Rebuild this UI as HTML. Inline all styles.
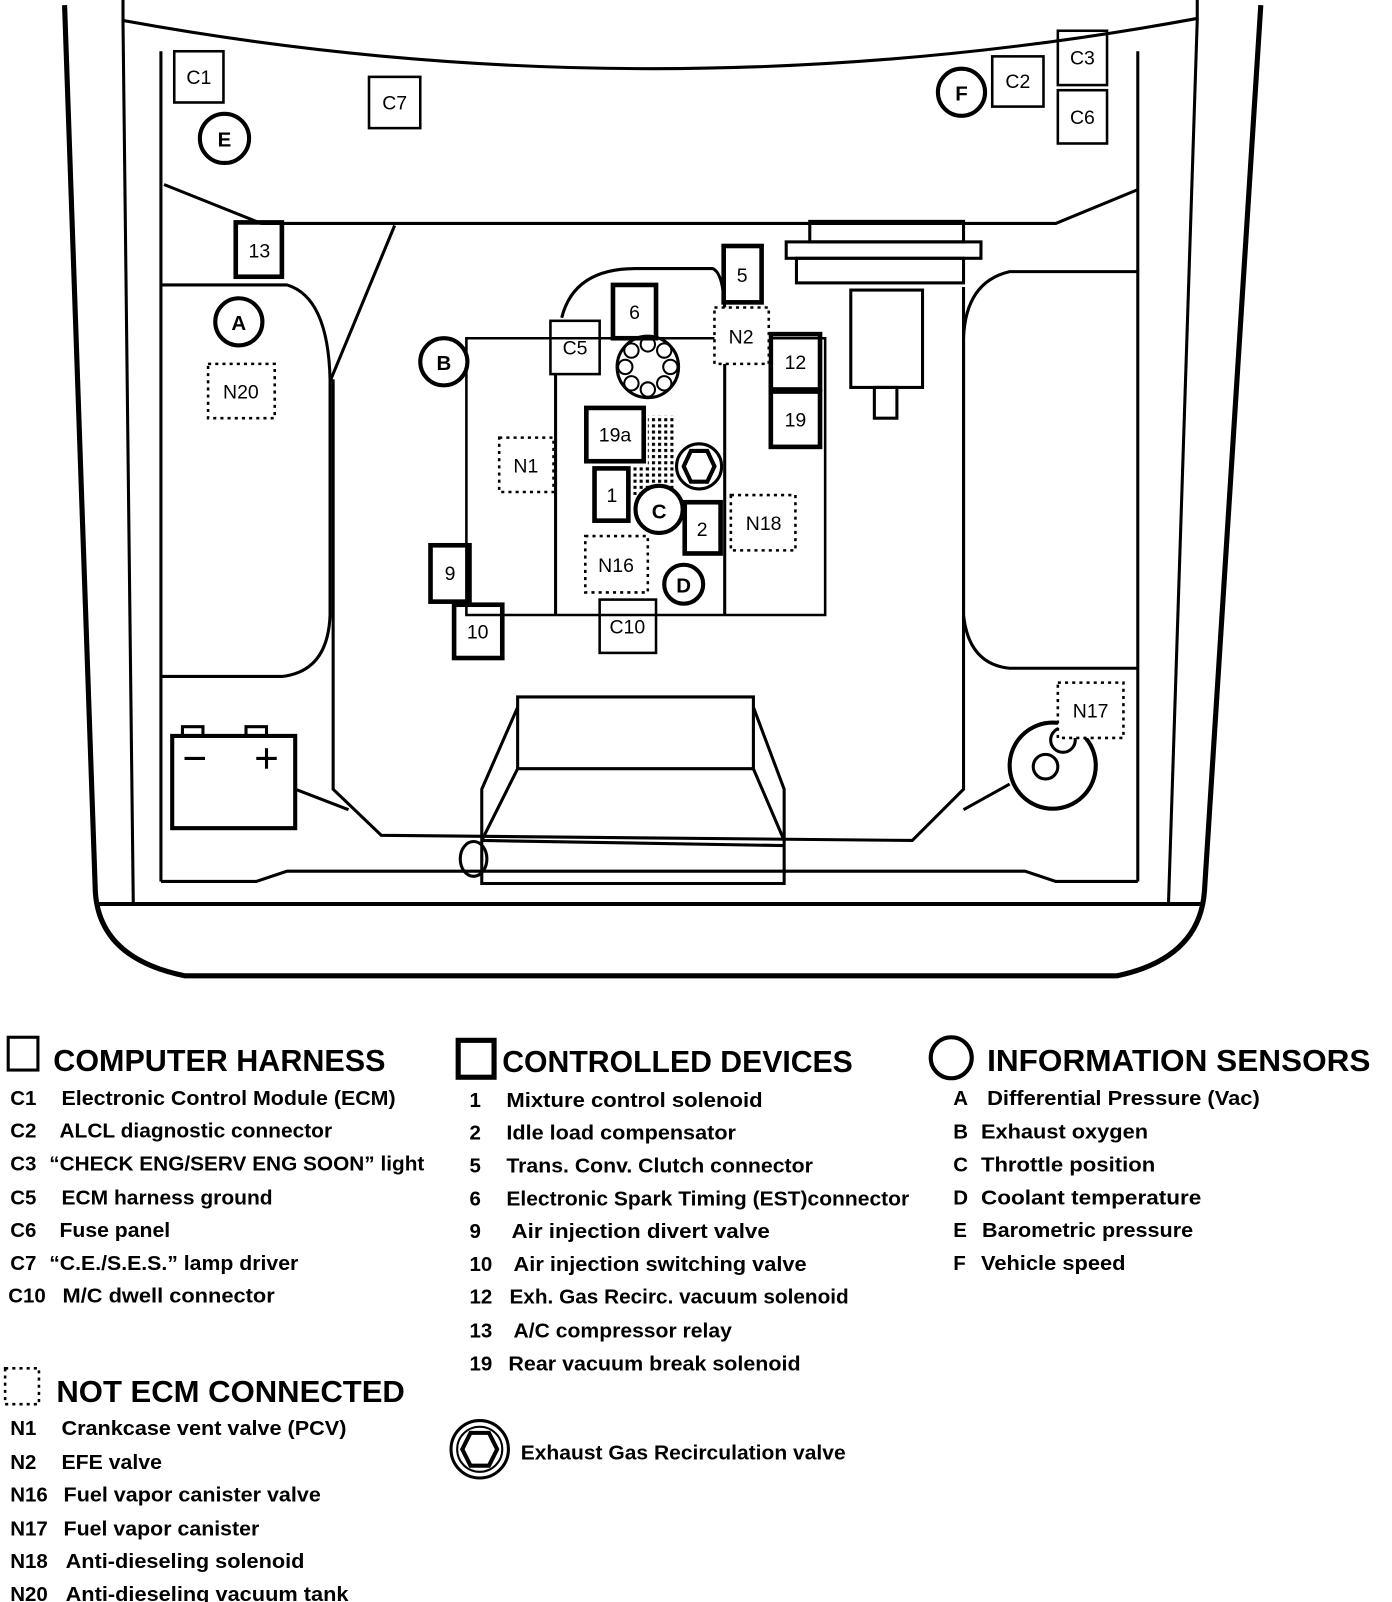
<!DOCTYPE html>
<html><head><meta charset="utf-8"><style>
html,body{margin:0;padding:0;background:#fff}
svg{display:block}
text{font-family:"Liberation Sans",sans-serif;fill:#000}
.b{font-weight:bold;font-size:20px}
.h{font-weight:bold;font-size:30px}
.l{font-size:19px}
</style></head><body>
<svg width="1392" height="1602" viewBox="0 0 1358 1563" preserveAspectRatio="none" xmlns="http://www.w3.org/2000/svg">
<defs><pattern id="dots" width="6" height="6" patternUnits="userSpaceOnUse"><rect x="0" y="0" width="3" height="3" fill="#000"/></pattern></defs>
<g fill="none" stroke="#000" stroke-width="3">
<path d="M63,5 L93,870 Q97,935 180,952 L1090,952 Q1170,935 1175,870 L1230,5" stroke-width="5"/>
<line x1="93" y1="882" x2="1175" y2="882" stroke-width="4"/>
<path d="M120,0 L120,22 L130,880"/>
<path d="M1168,0 L1168,20 L1140,880"/>
<path d="M120,20 Q640,115 1168,18"/>
<line x1="157" y1="50" x2="157" y2="860"/>
<line x1="1110" y1="50" x2="1110" y2="860"/>
<path d="M157,860 L250,860 L280,850 L1000,850 L1030,860 L1110,860"/>
<path d="M160,180 L255,218 L1030,218 L1110,185"/>
<path d="M157,278 L280,278 Q320,290 322,370 L322,600 Q320,655 275,660 L157,660"/>
<path d="M385,220 L322,372"/>
<path d="M325,370 L325,770 L372,815 L890,820 L940,770 L940,280"/>
<path d="M1110,265 L985,265 Q942,275 940,330 L940,600 Q945,648 985,652 L1110,652"/>
<rect x="168" y="718" width="120" height="90" stroke-width="4"/>
<rect x="178" y="709" width="20" height="9"/><rect x="240" y="709" width="20" height="9"/>
<line x1="180" y1="740" x2="200" y2="740"/><line x1="250" y1="740" x2="270" y2="740"/><line x1="260" y1="730" x2="260" y2="750"/>
<line x1="288" y1="770" x2="340" y2="790"/>
<path d="M505,680 L735,680 L735,750 L505,750 Z"/>
<path d="M505,690 L470,770 L470,862 L765,862 L765,770 L735,690"/>
<path d="M505,750 L470,820 M735,750 L765,820 M470,820 L765,825"/>
<ellipse cx="462" cy="838" rx="13" ry="17"/>
<circle cx="1027" cy="747" r="42" stroke-width="4"/>
<circle cx="1020" cy="748" r="12"/><circle cx="1037" cy="722" r="12"/>
<line x1="985" y1="765" x2="940" y2="790"/>
<path d="M455,330 L805,330 L805,600 L455,600 Z" stroke-width="2.5"/>
<line x1="542" y1="365" x2="542" y2="600"/>
<line x1="707" y1="355" x2="707" y2="600"/>
<path d="M548,310 Q560,262 620,262 L695,262 Q705,265 707,300"/>
<circle cx="632" cy="358" r="30"/>
<g stroke-width="2"><circle cx="632" cy="336" r="7"/><circle cx="648" cy="342" r="7"/><circle cx="654" cy="358" r="7"/><circle cx="648" cy="374" r="7"/><circle cx="632" cy="380" r="7"/><circle cx="616" cy="374" r="7"/><circle cx="610" cy="358" r="7"/><circle cx="616" cy="342" r="7"/></g>
<rect x="632" y="405" width="28" height="75" fill="url(#dots)" stroke="none"/>
<rect x="615" y="455" width="20" height="28" fill="url(#dots)" stroke="none"/>
<circle cx="682" cy="455" r="22"/>
<polygon points="674,440 690,440 697,455 690,470 674,470 667,455" stroke-width="4"/>
<rect x="767" y="236" width="190" height="16"/>
<rect x="777" y="252" width="163" height="24"/>
<rect x="790" y="216" width="150" height="20"/>
<rect x="830" y="283" width="70" height="95"/>
<rect x="853" y="378" width="22" height="30"/>
<g stroke-width="2.5">
<rect x="170" y="50" width="48" height="50"/><rect x="360" y="75" width="50" height="50"/>
<rect x="968" y="55" width="50" height="49"/><rect x="1032" y="30" width="48" height="53"/>
<rect x="1032" y="88" width="48" height="52"/><rect x="537" y="313" width="48" height="52"/>
<rect x="585" y="585" width="55" height="52"/>
</g>
<g stroke-width="4.5">
<rect x="230" y="217" width="45" height="53"/><rect x="598" y="278" width="42" height="52"/>
<rect x="706" y="240" width="37" height="55"/><rect x="752" y="326" width="48" height="54"/>
<rect x="752" y="382" width="48" height="54"/><rect x="572" y="398" width="56" height="52"/>
<rect x="580" y="457" width="33" height="51"/><rect x="668" y="490" width="35" height="50"/>
<rect x="420" y="532" width="38" height="55"/><rect x="443" y="590" width="47" height="52"/>
</g>
<g stroke-width="4" fill="#fff">
<circle cx="219" cy="135" r="24"/><circle cx="938" cy="90" r="23"/><circle cx="233" cy="314" r="23"/>
<circle cx="433" cy="353" r="23"/><circle cx="643" cy="497" r="23"/><circle cx="667" cy="570" r="19"/>
</g>
<g stroke-width="2.5" stroke-dasharray="3,4" fill="#fff">
<rect x="203" y="355" width="65" height="53"/><rect x="487" y="427" width="53" height="53"/>
<rect x="697" y="300" width="53" height="55"/><rect x="713" y="483" width="63" height="54"/>
<rect x="571" y="523" width="61" height="55"/><rect x="1032" y="666" width="64" height="54"/>
</g>
<rect x="8" y="1012" width="29" height="32" stroke-width="3"/>
<rect x="447" y="1015" width="35" height="36" stroke-width="5"/>
<circle cx="928" cy="1032" r="20" stroke-width="4"/>
<rect x="5" y="1335" width="33" height="35" stroke-width="2.5" stroke-dasharray="3,4"/>
<circle cx="468" cy="1414" r="28" stroke-width="3"/><circle cx="468" cy="1414" r="22" stroke-width="2"/>
<polygon points="459,1398 477,1398 485,1414 477,1430 459,1430 451,1414" stroke-width="4"/>
</g>
<g class="l" text-anchor="middle">
<text x="194" y="82">C1</text><text x="385" y="107">C7</text><text x="993" y="86">C2</text><text x="1056" y="63">C3</text><text x="1056" y="121">C6</text>
<text x="561" y="346">C5</text><text x="612" y="618">C10</text>
<text x="253" y="251">13</text><text x="619" y="311">6</text><text x="724" y="275">5</text><text x="776" y="360">12</text><text x="776" y="416">19</text>
<text x="600" y="431">19a</text><text x="597" y="490">1</text><text x="685" y="523">2</text><text x="439" y="566">9</text><text x="466" y="623">10</text>
<text x="235" y="389">N20</text><text x="513" y="461">N1</text><text x="723" y="335">N2</text><text x="745" y="517">N18</text><text x="601" y="558">N16</text><text x="1064" y="700">N17</text>
</g>
<g class="b" text-anchor="middle" font-size="22">
<text x="219" y="143" class="b">E</text><text x="938" y="98" class="b">F</text><text x="233" y="322" class="b">A</text>
<text x="433" y="361" class="b">B</text><text x="643" y="506" class="b">C</text><text x="667" y="578" class="b">D</text>
</g>
<text class="h" x="52" y="1045" textLength="324" lengthAdjust="spacingAndGlyphs">COMPUTER HARNESS</text>
<text class="h" x="490" y="1046" textLength="342" lengthAdjust="spacingAndGlyphs">CONTROLLED DEVICES</text>
<text class="h" x="963" y="1045" textLength="374" lengthAdjust="spacingAndGlyphs">INFORMATION SENSORS</text>
<text class="h" x="55" y="1368" textLength="340" lengthAdjust="spacingAndGlyphs">NOT ECM CONNECTED</text>
<g class="b">
<text x="10" y="1078">C1</text><text x="60" y="1078" textLength="326" lengthAdjust="spacingAndGlyphs">Electronic Control Module (ECM)</text>
<text x="10" y="1110">C2</text><text x="58" y="1110" textLength="266" lengthAdjust="spacingAndGlyphs">ALCL diagnostic connector</text>
<text x="10" y="1142">C3</text><text x="48" y="1142" textLength="366" lengthAdjust="spacingAndGlyphs">“CHECK ENG/SERV ENG SOON” light</text>
<text x="10" y="1175">C5</text><text x="60" y="1175" textLength="206" lengthAdjust="spacingAndGlyphs">ECM harness ground</text>
<text x="10" y="1207">C6</text><text x="58" y="1207" textLength="108" lengthAdjust="spacingAndGlyphs">Fuse panel</text>
<text x="10" y="1239">C7</text><text x="48" y="1239" textLength="243" lengthAdjust="spacingAndGlyphs">“C.E./S.E.S.” lamp driver</text>
<text x="8" y="1271">C10</text><text x="61" y="1271" textLength="207" lengthAdjust="spacingAndGlyphs">M/C dwell connector</text>
<text x="458" y="1080">1</text><text x="494" y="1080" textLength="250" lengthAdjust="spacingAndGlyphs">Mixture control solenoid</text>
<text x="458" y="1112">2</text><text x="494" y="1112" textLength="224" lengthAdjust="spacingAndGlyphs">Idle load compensator</text>
<text x="458" y="1144">5</text><text x="494" y="1144" textLength="299" lengthAdjust="spacingAndGlyphs">Trans. Conv. Clutch connector</text>
<text x="458" y="1176">6</text><text x="494" y="1176" textLength="393" lengthAdjust="spacingAndGlyphs">Electronic Spark Timing (EST)connector</text>
<text x="458" y="1208">9</text><text x="499" y="1208" textLength="252" lengthAdjust="spacingAndGlyphs">Air injection divert  valve</text>
<text x="458" y="1240">10</text><text x="501" y="1240" textLength="286" lengthAdjust="spacingAndGlyphs">Air injection switching valve</text>
<text x="458" y="1272">12</text><text x="497" y="1272" textLength="331" lengthAdjust="spacingAndGlyphs">Exh. Gas Recirc. vacuum solenoid</text>
<text x="458" y="1305">13</text><text x="501" y="1305" textLength="213" lengthAdjust="spacingAndGlyphs">A/C compressor relay</text>
<text x="458" y="1337">19</text><text x="496" y="1337" textLength="285" lengthAdjust="spacingAndGlyphs">Rear vacuum break solenoid</text>
<text x="930" y="1078">A</text><text x="963" y="1078" textLength="266" lengthAdjust="spacingAndGlyphs">Differential Pressure (Vac)</text>
<text x="930" y="1111">B</text><text x="957" y="1111" textLength="163" lengthAdjust="spacingAndGlyphs">Exhaust oxygen</text>
<text x="930" y="1143">C</text><text x="957" y="1143" textLength="170" lengthAdjust="spacingAndGlyphs">Throttle position</text>
<text x="930" y="1175">D</text><text x="957" y="1175" textLength="215" lengthAdjust="spacingAndGlyphs">Coolant temperature</text>
<text x="930" y="1207">E</text><text x="958" y="1207" textLength="206" lengthAdjust="spacingAndGlyphs">Barometric pressure</text>
<text x="930" y="1239">F</text><text x="957" y="1239" textLength="141" lengthAdjust="spacingAndGlyphs">Vehicle speed</text>
<text x="10" y="1400">N1</text><text x="60" y="1400" textLength="278" lengthAdjust="spacingAndGlyphs">Crankcase vent  valve (PCV)</text>
<text x="10" y="1433">N2</text><text x="60" y="1433" textLength="98" lengthAdjust="spacingAndGlyphs">EFE  valve</text>
<text x="10" y="1465">N16</text><text x="62" y="1465" textLength="251" lengthAdjust="spacingAndGlyphs">Fuel vapor canister valve</text>
<text x="10" y="1498">N17</text><text x="62" y="1498" textLength="191" lengthAdjust="spacingAndGlyphs">Fuel vapor canister</text>
<text x="10" y="1530">N18</text><text x="64" y="1530" textLength="233" lengthAdjust="spacingAndGlyphs">Anti-dieseling solenoid</text>
<text x="10" y="1562">N20</text><text x="64" y="1562" textLength="276" lengthAdjust="spacingAndGlyphs">Anti-dieseling vacuum tank</text>
<text x="508" y="1424" textLength="317" lengthAdjust="spacingAndGlyphs">Exhaust Gas Recirculation valve</text>
</g>
</svg>
</body></html>
